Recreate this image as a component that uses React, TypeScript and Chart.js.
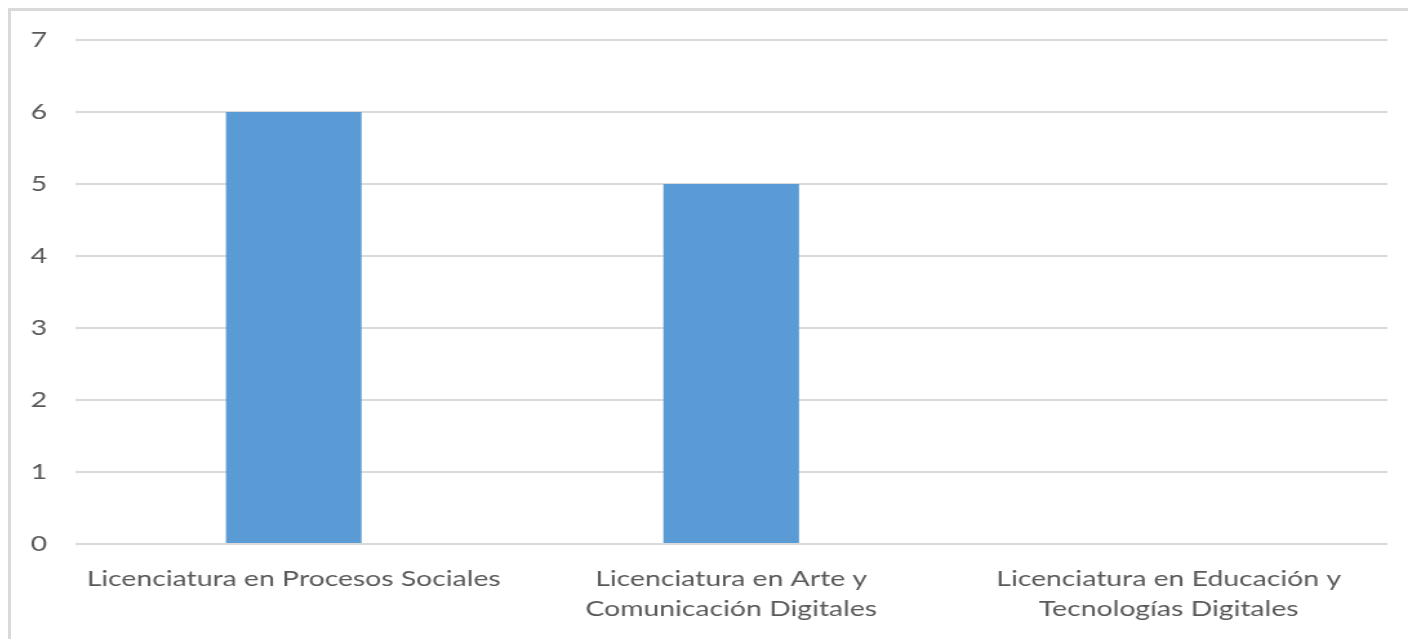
import React, { useEffect, useRef } from "react";
import { Chart, registerables } from "chart.js";

Chart.register(...registerables);

const categories: string[][] = [
  ["Licenciatura en Procesos Sociales"],
  ["Licenciatura en Arte y", "Comunicación Digitales"],
  ["Licenciatura en Educación y", "Tecnologías Digitales"],
];
const values: number[] = [6, 5, 0];
const yTicks: number[] = [0, 1, 2, 3, 4, 5, 6, 7];

const STRETCH = 1.29;
const CANVAS_W = 1083;
const CANVAS_H = 628;

export default function App() {
  const ref = useRef<HTMLCanvasElement | null>(null);

  useEffect(() => {
    if (!ref.current) return;
    const chart = new Chart(ref.current, {
      type: "bar",
      data: {
        labels: categories,
        datasets: [
          {
            data: values,
            backgroundColor: "#5B9BD5",
            borderWidth: 0,
            barPercentage: 0.31,
            categoryPercentage: 1,
          },
        ],
      },
      options: {
        responsive: false,
        animation: false,
        devicePixelRatio: 1,
        layout: { padding: { left: 0, top: 29, right: 16, bottom: 0 } },
        plugins: {
          legend: { display: false },
          tooltip: { enabled: false },
        },
        scales: {
          x: {
            grid: { display: false, drawTicks: false },
            border: { display: false },
            ticks: {
              color: "#595959",
              font: { family: "Lato", size: 22, lineHeight: "30px" },
              padding: 20,
              maxRotation: 0,
              minRotation: 0,
              autoSkip: false,
            },
            afterFit: (s: any) => {
              s.height = 95;
              s.paddingLeft = 0;
              s.paddingRight = 0;
            },
          },
          y: {
            min: yTicks[0],
            max: yTicks[yTicks.length - 1],
            afterBuildTicks: (s: any) => {
              s.ticks = yTicks.map((v) => ({ value: v }));
            },
            grid: { color: "#dadada", lineWidth: 2, drawTicks: false },
            border: { display: false },
            ticks: {
              color: "#595959",
              font: { family: "Lato", size: 22 },
              padding: 21.7,
            },
            afterFit: (s: any) => {
              s.width = 49.6;
              s.paddingTop = 0;
              s.paddingBottom = 0;
            },
          },
        },
      },
    });
    return () => chart.destroy();
  }, []);

  return (
    <div
      style={{
        position: "fixed",
        left: 8,
        top: 8,
        width: 1420,
        height: 650,
        border: "3px solid #d9d9d9",
        background: "#fff",
        overflow: "hidden",
      }}
    >
      <div
        style={{
          width: CANVAS_W,
          height: CANVAS_H,
          transform: `scaleX(${STRETCH})`,
          transformOrigin: "0 0",
        }}
      >
        <canvas ref={ref} width={CANVAS_W} height={CANVAS_H} />
      </div>
    </div>
  );
}
